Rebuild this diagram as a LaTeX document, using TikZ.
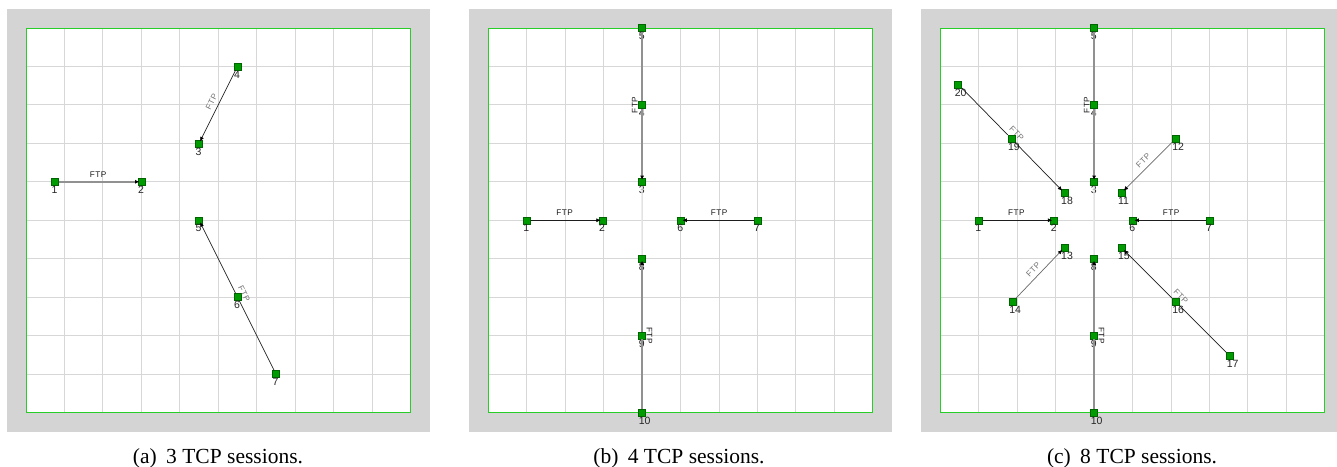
\documentclass[tikz,border=0pt]{standalone}
\usepackage{fontspec}
\setmainfont{Liberation Serif}
\newfontfamily\lblfont{Liberation Sans}
\newfontfamily\ftpfont[LetterSpace=6]{Liberation Sans}
\usetikzlibrary{arrows.meta}

\definecolor{bggray}{RGB}{212,212,212}
\definecolor{gridc}{RGB}{215,215,215}
\definecolor{framec}{RGB}{40,205,40}
\definecolor{nodefill}{RGB}{0,155,0}
\definecolor{nodeedge}{RGB}{0,100,0}
\definecolor{thickc}{RGB}{145,145,145}
\definecolor{faintc}{RGB}{232,232,232}
\definecolor{thinc}{RGB}{30,30,30}
\definecolor{thingray}{RGB}{105,105,105}

\tikzset{
 nd/.style={rectangle, minimum size=7pt, inner sep=0pt, fill=nodefill, draw=nodeedge, line width=0.5pt},
 nl/.style={anchor=north west, inner sep=0pt, xshift=-3.5pt, yshift=-4.2pt, font=\lblfont\fontsize{10.5}{10.5}\selectfont, text=black!85},
 ftp/.style={inner sep=1pt, outer sep=3.6pt, font=\ftpfont\fontsize{8.2}{8.2}\selectfont, text=black!90},
 ftpg/.style={ftp, text=black!55},
 tip/.style={-{Latex[length=4.5pt,width=4pt,color=black]}, shorten >=-2pt},
 thickl/.style={line width=2pt, draw=thickc},
 thinl/.style={line width=0.7pt, draw=thinc},
 thingl/.style={line width=0.7pt, draw=thingray},
 faintl/.style={line width=2pt, draw=faintc, opacity=0.7},
 gridl/.style={line width=0.9pt, draw=gridc},
 framel/.style={line width=1pt, draw=framec},
 captxt/.style={anchor=base, inner sep=0pt, font=\fontsize{21.5}{24}\selectfont},
 field/.style={x=38.45pt, y=-38.45pt}
}

\newcommand\fieldgrid[1]{%
 \fill[bggray] (-0.494,-0.494) rectangle (10.494,10.494);
 \fill[white] (0,0) rectangle (10,10);
 \foreach \i in {1,...,9} {\draw[gridl] (\i,0) -- (\i,10); \draw[gridl] (0,\i) -- (10,\i);}
 \draw[framel] (0,0) rectangle (10,10);
}
\newcommand\nd[4]{%
 \node[nd] (#1) at (#2,#3) {};
 \node[nl] (#1l) at (#2,#3) {#4};
}

\begin{document}
\begin{tikzpicture}
\useasboundingbox (0,0) rectangle (1337pt,-466pt);
\fill[white] (0,0) rectangle (1337pt,-466pt);

% ---------------- panel (a)
\begin{scope}[shift={(26pt,-28pt)}, field]
 \fieldgrid{a}
 \nd{a1}{0.75}{4}{1}
 \nd{a2}{3}{4}{2}
 \nd{a3}{4.5}{3}{3}
 \nd{a4}{5.5}{1}{4}
 \nd{a5}{4.5}{5}{5}
 \nd{a6}{5.5}{7}{6}
 \nd{a7}{6.5}{9}{7}
 \draw[thickl, tip] (a1) -- node[ftp, above] (fa1) {FTP} (a2);
 \draw[thinl, tip] (a4) -- node[ftpg, sloped, above] (fa2) {FTP} (a3);
 \draw[thinl, tip] (a7) -- (a6) -- (a5);
 \node[ftpg, rotate=-63.43, anchor=south] (fa3) at (5.5,7) {FTP};
\end{scope}

% ---------------- panel (b)
\begin{scope}[shift={(488.3pt,-28pt)}, field]
 \fieldgrid{b}
 \nd{b1}{1}{5}{1}
 \nd{b2}{2.97}{5}{2}
 \nd{b3}{4}{4}{3}
 \nd{b4}{4}{2}{4}
 \nd{b5}{4}{0}{5}
 \nd{b6}{5}{5}{6}
 \nd{b7}{7}{5}{7}
 \nd{b8}{4}{6}{8}
 \nd{b9}{4}{8}{9}
 \nd{b10}{4}{10}{10}
 \draw[faintl] (b3) -- (b8);
 \draw[thickl, tip] (b5) -- (b4) -- (b3);
 \node[ftp, rotate=90, anchor=south] (fb1) at (4,2) {FTP};
 \draw[thickl, tip] (b10) -- (b9) -- (b8);
 \node[ftp, rotate=-90, anchor=south] (fb2) at (4,8) {FTP};
 \draw[thinl, tip] (b1) -- node[ftp, above] (fb3) {FTP} (b2);
 \draw[thinl, tip] (b7) -- node[ftp, above] (fb4) {FTP} (b6);
\end{scope}

% ---------------- panel (c)
\begin{scope}[shift={(940.3pt,-28pt)}, field]
 \fieldgrid{c}
 \nd{c1}{1}{5}{1}
 \nd{c2}{2.96}{5}{2}
 \nd{c3}{4}{4}{3}
 \nd{c4}{4}{2}{4}
 \nd{c5}{4}{0}{5}
 \nd{c6}{5}{5}{6}
 \nd{c7}{7}{5}{7}
 \nd{c8}{4}{6}{8}
 \nd{c9}{4}{8}{9}
 \nd{c10}{4}{10}{10}
 \nd{c11}{4.707}{4.293}{11}
 \nd{c12}{6.121}{2.879}{12}
 \nd{c13}{3.23}{5.707}{13}
 \nd{c14}{1.879}{7.121}{14}
 \nd{c15}{4.707}{5.707}{15}
 \nd{c16}{6.121}{7.121}{16}
 \nd{c17}{7.536}{8.536}{17}
 \nd{c18}{3.23}{4.293}{18}
 \nd{c19}{1.85}{2.879}{19}
 \nd{c20}{0.464}{1.464}{20}
 \draw[faintl] (c3) -- (c8);
 \draw[thickl, tip] (c5) -- (c4) -- (c3);
 \node[ftp, rotate=90, anchor=south] (fc1) at (4,2) {FTP};
 \draw[thickl, tip] (c10) -- (c9) -- (c8);
 \node[ftp, rotate=-90, anchor=south] (fc2) at (4,8) {FTP};
 \draw[thinl, tip] (c1) -- node[ftp, above] (fc3) {FTP} (c2);
 \draw[thinl, tip] (c7) -- node[ftp, above] (fc4) {FTP} (c6);
 \draw[thinl, tip] (c20) -- (c19) -- (c18);
 \node[ftpg, rotate=-45, anchor=south] (fc5) at (1.85,2.879) {FTP};
 \draw[thingl, tip] (c12) -- node[ftpg, sloped, above] (fc6) {FTP} (c11);
 \draw[thingl, tip] (c14) -- node[ftpg, sloped, above] (fc7) {FTP} (c13);
 \draw[thinl, tip] (c17) -- (c16) -- (c15);
 \node[ftpg, rotate=-45, anchor=south] (fc8) at (6.121,7.121) {FTP};
\end{scope}

% ---------------- captions
\node[captxt] (capa) at (218pt,-463pt) {(a)\hspace{4pt} 3 TCP sessions.};
\node[captxt] (capb) at (679pt,-463pt) {(b)\hspace{4pt} 4 TCP sessions.};
\node[captxt] (capc) at (1132pt,-463pt) {(c)\hspace{4pt} 8 TCP sessions.};
\end{tikzpicture}
\end{document}
